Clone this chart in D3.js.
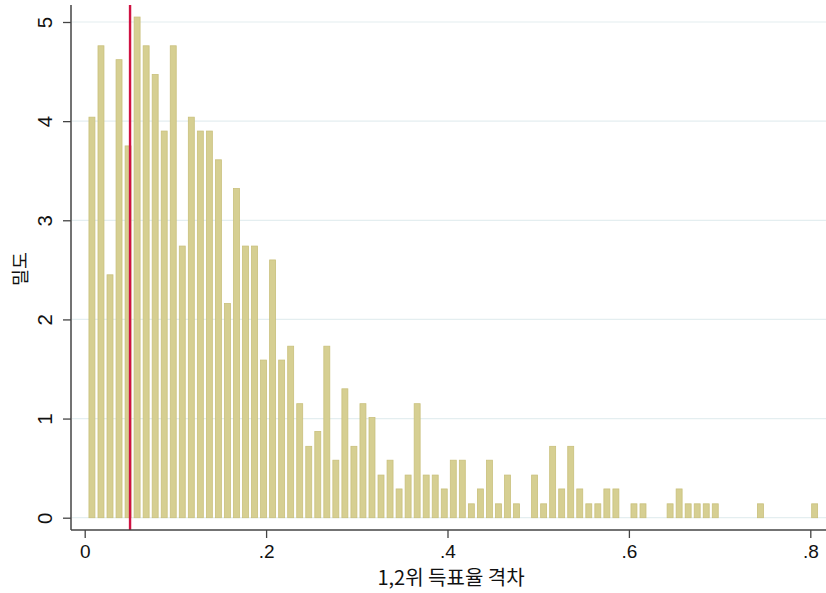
<!DOCTYPE html>
<html>
<head>
<meta charset="utf-8">
<script src="https://cdn.jsdelivr.net/npm/d3@7"></script>
<style>
  body { margin: 0; background: #fff; }
  svg { display: block; }
  text { font-family: "Liberation Sans", Arial, sans-serif; fill: #111; }
  .kr { font-family: "Noto Sans CJK KR", sans-serif; }
</style>
</head>
<body>
<div id="chart"></div>
<script>
// histogram bins (Stata style: start + fixed width)
const binStart = 0.003;
const binWidth = 0.00996;

// density per bin
const density = [
  4.04, 4.76, 2.45, 4.62, 3.75, 5.05, 4.76, 4.47, 3.90, 4.76,
  2.74, 4.04, 3.90, 3.90, 3.61, 2.16, 3.32, 2.74, 2.74, 1.59,
  2.60, 1.59, 1.73, 1.15, 0.72, 0.87, 1.73, 0.58, 1.30, 0.72,
  1.15, 1.01, 0.43, 0.58, 0.29, 0.43, 1.15, 0.43, 0.43, 0.29,
  0.58, 0.58, 0.14, 0.29, 0.58, 0.14, 0.43, 0.14, 0, 0.43,
  0.14, 0.72, 0.29, 0.72, 0.29, 0.14, 0.14, 0.29, 0.29, 0,
  0.14, 0.14, 0, 0, 0.14, 0.29, 0.14, 0.14, 0.14, 0.14,
  0, 0, 0, 0, 0.14, 0, 0, 0, 0, 0,
  0.14
];

const yTicks = [0, 1, 2, 3, 4, 5];
const xTicks = [0, 0.2, 0.4, 0.6, 0.8];
const xTickLabels = ["0", ".2", ".4", ".6", ".8"];
const cutoff = 0.05;

const xTitle = "1,2위 득표율 격차";
const yTitle = "밀도";

const W = 826, H = 593;
const axisX = 71, axisY = 530;   // where the axis lines sit
const plotTop = 5, plotRight = W;

const svg = d3.select("#chart").append("svg")
  .attr("width", W)
  .attr("height", H);

const x = d3.scaleLinear().domain([0, 0.8]).range([84.7, 810.3]);
const y = d3.scaleLinear().domain([0, 5]).range([517.7, 22]);

// gridlines
svg.append("g")
  .selectAll("line")
  .data(yTicks)
  .enter()
  .append("line")
  .attr("x1", axisX + 1)
  .attr("x2", plotRight)
  .attr("y1", d => y(d))
  .attr("y2", d => y(d))
  .attr("stroke", "#e4eef0")
  .attr("stroke-width", 1.2);

// bars
const binPx = x(binWidth) - x(0);
const barW = binPx * 0.66;

svg.append("g")
  .selectAll("rect")
  .data(density.map((d, i) => ({ i: i, v: d })).filter(d => d.v > 0))
  .enter()
  .append("rect")
  .attr("x", d => x(binStart + (d.i + 0.5) * binWidth) - barW / 2)
  .attr("y", d => y(d.v))
  .attr("width", barW)
  .attr("height", d => y(0) - y(d.v))
  .attr("fill", "#d6cf92")
  .attr("stroke", "#c9c07c")
  .attr("stroke-width", 0.8);

// cutoff line
svg.append("line")
  .attr("x1", x(cutoff))
  .attr("x2", x(cutoff))
  .attr("y1", plotTop)
  .attr("y2", axisY)
  .attr("stroke", "#cf1242")
  .attr("stroke-width", 2.4);

// x axis
const xAxis = d3.axisBottom(x)
  .tickValues(xTicks)
  .tickFormat((d, i) => xTickLabels[i])
  .tickSize(8)
  .tickPadding(7);

const gx = svg.append("g")
  .attr("transform", "translate(0," + axisY + ")")
  .call(xAxis);
gx.select(".domain").remove();
gx.selectAll(".tick line").attr("stroke", "#444").attr("stroke-width", 1.3);
gx.selectAll(".tick text")
  .attr("font-size", 19)
  .style("font-family", "Liberation Sans, Arial, sans-serif")
  .attr("fill", "#111");
gx.append("line")
  .attr("x1", axisX)
  .attr("x2", plotRight)
  .attr("stroke", "#444")
  .attr("stroke-width", 1.5);

// y axis
const yAxis = d3.axisLeft(y)
  .tickValues(yTicks)
  .tickFormat(d3.format("d"))
  .tickSize(8);

const gy = svg.append("g")
  .attr("transform", "translate(" + axisX + ",0)")
  .call(yAxis);
gy.select(".domain").remove();
gy.selectAll(".tick line").attr("stroke", "#444").attr("stroke-width", 1.3);
gy.selectAll(".tick text")
  .attr("x", null)
  .attr("dy", "0.35em")
  .attr("text-anchor", "middle")
  .attr("transform", "translate(-26.5,0) rotate(-90)")
  .attr("font-size", 20.5)
  .style("font-family", "Liberation Sans, Arial, sans-serif")
  .attr("fill", "#111");
gy.append("line")
  .attr("y1", plotTop)
  .attr("y2", axisY)
  .attr("stroke", "#444")
  .attr("stroke-width", 1.5);

// axis titles
svg.append("text")
  .attr("class", "kr")
  .attr("x", 451)
  .attr("y", 585)
  .attr("text-anchor", "middle")
  .attr("font-size", 20)
  .text(xTitle);

svg.append("text")
  .attr("class", "kr")
  .attr("transform", "translate(21,269) rotate(-90)")
  .attr("dy", "0.35em")
  .attr("text-anchor", "middle")
  .attr("font-size", 18.5)
  .text(yTitle);
</script>
</body>
</html>
